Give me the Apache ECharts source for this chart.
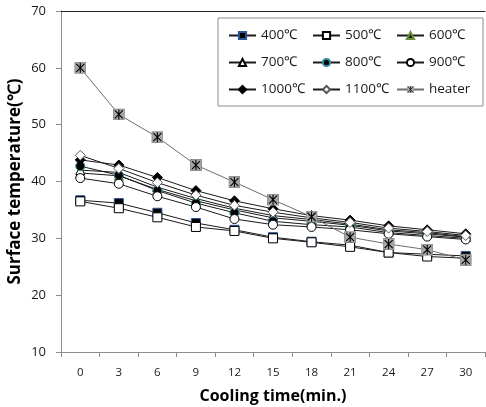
<!DOCTYPE html>
<html>
<head>
<meta charset="utf-8">
<script src="https://cdn.jsdelivr.net/npm/echarts@6/dist/echarts.min.js"></script>
<style>
  html, body { margin: 0; padding: 0; background: #fff; }
  #chart { width: 486px; height: 407px; }
</style>
</head>
<body>
<div id="chart"></div>
<script>
// Cooling time (min.) on the category axis
const minutes = ['0', '3', '6', '9', '12', '15', '18', '21', '24', '27', '30'];
const yTicks = { min: 10, max: 70, interval: 10 };

// Surface temperature (℃) per heating condition
const t400 = [36.7, 36.2, 34.5, 32.7, 31.5, 30.2, 29.4, 28.8, 27.5, 27.2, 26.9];
const t500 = [36.5, 35.3, 33.7, 32.0, 31.3, 30.0, 29.3, 28.5, 27.5, 26.8, 26.5];
const t600 = [41.5, 41.0, 38.6, 36.6, 35.0, 33.6, 33.0, 32.3, 31.3, 30.8, 30.2];
const t700 = [42.0, 41.6, 39.0, 37.0, 35.3, 34.0, 33.3, 32.5, 31.5, 31.0, 30.3];
const t800 = [42.7, 41.1, 38.4, 36.2, 34.5, 33.0, 32.4, 32.0, 31.0, 30.5, 30.0];
const t900 = [40.6, 39.6, 37.4, 35.5, 33.4, 32.4, 32.0, 31.5, 30.8, 30.3, 29.8];
const t1000 = [43.8, 42.9, 40.7, 38.4, 36.6, 35.2, 34.0, 33.2, 32.2, 31.5, 30.8];
const t1100 = [44.6, 42.3, 39.8, 37.6, 35.8, 34.6, 33.6, 32.8, 31.8, 31.2, 30.5];
const heater = [60.0, 51.8, 47.8, 42.9, 39.9, 36.8, 33.8, 30.2, 29.0, 28.0, 26.2];

const seriesNames = ['400℃', '500℃', '600℃', '700℃', '800℃', '900℃', '1000℃', '1100℃', 'heater'];

// Grey square with an asterisk for the heater marker
const starSvg =
  '<svg xmlns="http://www.w3.org/2000/svg" width="12" height="12" viewBox="0 0 12 12">' +
  '<rect x="0.5" y="0.5" width="11" height="11" fill="#a6a6a6" stroke="#8c8c8c" stroke-width="1"/>' +
  '<path d="M2 2 L10 10 M10 2 L2 10 M6 1 L6 11" stroke="#000" stroke-width="1.1"/>' +
  '</svg>';
const starSymbol = 'image://data:image/svg+xml;charset=utf-8,' + encodeURIComponent(starSvg);

const font = '"Open Sans", "Liberation Sans", sans-serif';

function line(name, data, symbol, size, fill, border, lineColor) {
  return {
    name: name,
    type: 'line',
    data: data,
    symbol: symbol,
    symbolSize: size,
    showAllSymbol: true,
    lineStyle: { color: lineColor || '#1a1a1a', width: 1 },
    itemStyle: { color: fill, borderColor: border, borderWidth: 1 },
    emphasis: { disabled: true },
    animation: false,
    z: 2
  };
}

const chart = echarts.init(document.getElementById('chart'), null, { renderer: 'canvas' });
chart.setOption({
  backgroundColor: '#fff',
  animation: false,
  grid: { left: 61, top: 11, right: 1, bottom: 55, containLabel: false, outerBoundsMode: 'none' },
  legend: {
    left: 218,
    top: 18,
    width: 262,
    padding: [6, 7, 5, 10],
    backgroundColor: '#fff',
    borderColor: '#8c8c8c',
    borderWidth: 1,
    itemWidth: 27,
    itemHeight: 9,
    itemGap: 4,
    data: seriesNames,
    textStyle: {
      fontFamily: font,
      fontSize: 13.5,
      color: '#1a1a1a',
      width: 47,
      height: 23,
      lineHeight: 23
    }
  },
  xAxis: [
    {
      type: 'category',
      data: minutes,
      boundaryGap: true,
      axisLine: { lineStyle: { color: '#8c8c8c', width: 1 } },
      axisTick: { show: true, inside: false, length: 5, lineStyle: { color: '#8c8c8c' } },
      axisLabel: { fontFamily: font, fontSize: 11.5, color: '#1a1a1a', margin: 15 },
      splitLine: { show: false },
      name: 'Cooling time(min.)',
      nameLocation: 'middle',
      nameGap: 36,
      nameMoveOverlap: false,
      nameTextStyle: { fontFamily: font, fontSize: 16, fontWeight: 'bold', color: '#000' }
    },
    {
      // plain rule along the top edge of the plot
      type: 'category',
      position: 'top',
      data: minutes,
      axisLine: { lineStyle: { color: '#262626', width: 1 } },
      axisTick: { show: false },
      axisLabel: { show: false }
    }
  ],
  yAxis: {
    type: 'value',
    min: yTicks.min,
    max: yTicks.max,
    interval: yTicks.interval,
    axisLine: { show: true, lineStyle: { color: '#8c8c8c', width: 1 } },
    axisTick: { show: true, inside: false, length: 5, lineStyle: { color: '#8c8c8c' } },
    axisLabel: { fontFamily: font, fontSize: 13, color: '#1a1a1a', margin: 15 },
    splitLine: { show: false },
    name: 'Surface temperature(℃)',
    nameLocation: 'middle',
    nameRotate: 90,
    nameGap: 37,
    nameMoveOverlap: false,
    nameTextStyle: { fontFamily: font, fontSize: 17, fontWeight: 'bold', color: '#000' }
  },
  series: [
    line('400℃', t400, 'rect', 9, '#000', '#2e5597'),
    line('500℃', t500, 'rect', 9, '#fff', '#000'),
    line('600℃', t600, 'triangle', 9, '#17230d', '#6f8f3a'),
    line('700℃', t700, 'triangle', 9, '#fff', '#000'),
    line('800℃', t800, 'circle', 9, '#000', '#2a8b9a'),
    line('900℃', t900, 'circle', 9, '#fff', '#000'),
    line('1000℃', t1000, 'diamond', 10, '#000', '#000'),
    line('1100℃', t1100, 'diamond', 10, '#fff', '#555'),
    line('heater', heater, starSymbol, 12, '#a6a6a6', '#8c8c8c', '#6e6e6e')
  ]
});
</script>
</body>
</html>
